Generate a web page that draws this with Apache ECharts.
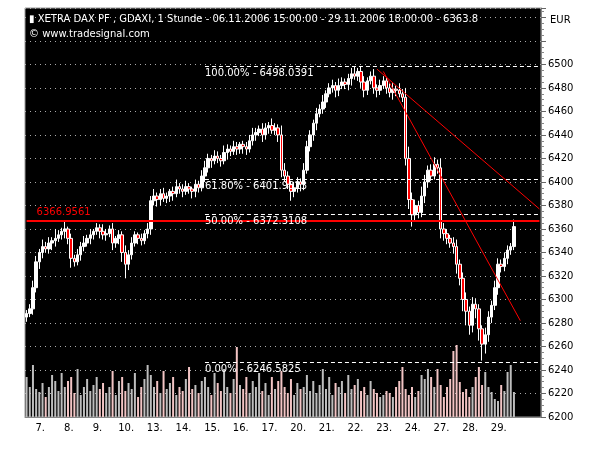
<!DOCTYPE html>
<html><head><meta charset="utf-8">
<script src="https://cdn.jsdelivr.net/npm/echarts@6/dist/echarts.min.js"></script>
<style>html,body{margin:0;background:#fff}#c{width:600px;height:450px}</style>
</head><body><div id="c"></div>
<script>
// hourly closes, 06.11.2006 15:00 .. 29.11.2006
var closes = [6288,6292,6310,6332,6340,6345,6343,6348,6350,6352,6355,6358,6360,6352,6335,6332,6338,6345,6348,6352,
  6355,6358,6361,6358,6355,6356,6360,6348,6352,6355,6340,6330,6338,6348,6355,6352,6350,6356,6360,6384,
  6388,6385,6390,6386,6388,6392,6390,6396,6394,6392,6396,6394,6392,6398,6395,6405,6412,6420,6418,6422,
  6420,6418,6425,6428,6426,6430,6428,6432,6430,6428,6435,6440,6442,6445,6440,6446,6448,6444,6446,6440,
  6410,6405,6398,6392,6395,6400,6398,6410,6430,6440,6450,6458,6462,6468,6475,6480,6482,6478,6482,6485,
  6483,6488,6492,6490,6494,6485,6478,6486,6490,6480,6478,6482,6486,6480,6476,6479,6478,6475,6472,6420,
  6385,6372,6380,6374,6388,6400,6410,6405,6415,6412,6360,6356,6352,6348,6345,6330,6318,6300,6290,6278,
  6296,6292,6275,6262,6270,6285,6295,6310,6330,6328,6335,6342,6345,6362];
var wickUp = [3,4,6,5,3,6,4,5,3,8,4,3,6,2,4,3,5,4,6,3,5,2,4,3,6,4,3,5,2,4,3,6,4,5,3,2,4,3,5,4,
  6,3,4,5,3,2,4,6,3,4,5,3,2,4,3,5,6,4,3,5,4,3,6,4,3,5,4,2,3,4,5,6,4,3,5,4,3,6,4,3,
  8,6,4,3,5,4,3,6,5,4,3,5,4,6,3,4,5,3,6,4,3,4,5,6,3,4,5,3,4,6,3,5,4,3,4,5,3,6,4,8,
  10,6,5,4,8,6,4,5,6,4,8,5,4,3,5,6,4,5,6,4,6,5,4,3,6,5,4,6,5,4,5,4,3,6];
var wickDn = [4,3,5,4,6,5,3,4,6,5,3,4,6,5,8,4,3,5,4,3,5,4,3,6,4,5,3,6,4,5,8,12,5,4,3,5,4,3,4,5,
  4,6,5,3,4,5,6,3,4,5,3,4,6,5,4,3,5,4,6,3,4,5,3,6,4,3,5,4,6,5,3,4,5,3,6,4,5,3,4,6,
  6,5,4,8,5,4,6,5,3,4,5,6,3,4,5,3,4,6,5,3,4,5,6,3,4,5,6,4,3,5,6,4,3,5,4,6,5,3,4,6,
  8,10,6,5,4,6,5,4,3,5,8,6,5,4,6,8,6,10,12,8,6,8,10,14,8,6,5,4,6,5,4,5,4,3];
var volumes = [40,30,52,28,25,34,20,30,42,36,26,44,30,36,40,24,48,22,30,38,
  26,32,40,28,34,24,30,46,22,36,40,26,34,28,44,20,30,38,52,42,
  30,36,24,46,28,34,40,22,30,26,38,50,28,32,24,36,40,30,22,44,
  34,26,48,30,24,38,70,32,28,40,24,36,30,44,26,34,22,40,28,36,
  46,30,24,38,22,34,28,30,42,26,36,24,32,48,28,40,22,34,30,36,
  24,42,28,32,38,26,30,22,36,28,24,20,22,26,24,20,30,36,50,28,
  22,30,20,26,42,38,48,40,30,48,32,20,30,38,66,72,35,25,28,20,
  30,40,50,32,45,30,25,18,16,32,26,45,52,25];
var dayLabels = ['7.','8.','9.','10.','13.','14.','15.','16.','17.','20.','21.','22.','23.','24.','27.','28.','29.'];
var dayStarts = [3,12,21,30,39,48,57,66,75,84,93,102,111,120,129,138,147];
var fibLevels = [6498.0391, 6401.9823, 6372.3108, 6246.5825];
var fibNames = ['100.00%','61.80%','50.00%','0.00%'];
var redLevel = 6366.9561;

var nCat = 162;
var cats = [], ohlc = [], vol = [];
for (var i = 0; i < nCat; i++) {
  cats.push(i);
}
for (var i = 0; i < closes.length; i++) {
  var o = i == 0 ? 6285 : closes[i - 1];
  var c = closes[i];
  ohlc.push([o, c, Math.min(o, c) - wickDn[i], Math.max(o, c) + wickUp[i]]);
  vol.push({value: volumes[i], itemStyle: {color: c >= o ? '#bdbdbd' : '#f2c4c4'}});
}
function labelAt(idx) { return dayStarts.indexOf(idx) >= 0; }

var fibLines = [];
for (var k = 0; k < fibLevels.length; k++) {
  fibLines.push([{coord: [56, fibLevels[k]], label: {formatter: fibNames[k] + ' - ' + fibLevels[k].toFixed(4)}},
                 {coord: [nCat - 1, fibLevels[k]]}]);
}

var myChart = echarts.init(document.getElementById('c'));
myChart.setOption({
  animation: false,
  backgroundColor: '#fff',
  textStyle: {fontFamily: 'DejaVu Sans'},
  title: [
    {text: '\u25AE XETRA DAX PF , GDAXI, 1 Stunde - 06.11.2006 15:00:00 - 29.11.2006 18:00:00 - 6363.8',
     left: 24, top: 9, textStyle: {color: '#fff', fontSize: 10, fontWeight: 'normal'}},
    {text: '\u00A9 www.tradesignal.com', left: 24, top: 24, textStyle: {color: '#fff', fontSize: 10, fontWeight: 'normal'}},
    {text: 'EUR', left: 545, top: 10, textStyle: {color: '#000', fontSize: 10, fontWeight: 'normal'}}
  ],
  grid: {left: 25, right: 59, top: 8, bottom: 33, show: true, backgroundColor: '#000', borderColor: '#999', borderWidth: 1},
  xAxis: {
    type: 'category', data: cats, boundaryGap: true,
    axisLine: {lineStyle: {color: '#888'}},
    axisTick: {interval: function (idx) { return labelAt(idx); }, lineStyle: {color: '#444'}, length: 4},
    axisLabel: {interval: function (idx) { return labelAt(idx); }, color: '#000', fontSize: 10, margin: 6, padding: [0, 0, 0, 8],
      formatter: function (v, idx) { var p = dayStarts.indexOf(idx); return p >= 0 ? dayLabels[p] : ''; }}
  },
  yAxis: [{
    type: 'value', position: 'right', min: 6200, max: 6548, interval: 20, scale: true,
    axisLine: {show: true, lineStyle: {color: '#888'}},
    axisTick: {show: true, length: 5, lineStyle: {color: '#666'}},
    minorTick: {show: true, splitNumber: 4, length: 3, lineStyle: {color: '#888'}},
    axisLabel: {color: '#000', fontSize: 10, margin: 7,
      formatter: function (v) { return (v % 20 == 0 && v <= 6500) ? v : ''; }},
    splitLine: {show: true, lineStyle: {color: '#aaa', type: [1, 4], width: 1}}
  }, {
    type: 'value', min: 0, max: 409, show: false
  }],
  series: [{
    type: 'bar', yAxisIndex: 1, data: vol, barWidth: 2, z: 1
  }, {
    type: 'candlestick', data: ohlc, barWidth: 3, z: 3,
    itemStyle: {color: '#fff', color0: '#f00', borderColor: '#fff', borderColor0: '#fff', borderWidth: 1},
    markLine: {
      symbol: 'none', silent: true, animation: false,
      lineStyle: {color: '#fff', type: [4, 3], width: 1},
      label: {position: 'insideStartBottom', color: '#fff', fontSize: 10, distance: [0, 2]},
      data: fibLines.concat([
        [{coord: [0, redLevel], lineStyle: {color: '#f00', type: 'solid', width: 2},
          label: {formatter: redLevel.toFixed(4), color: '#f00', position: 'insideStartTop', distance: [10, 3]}},
         {coord: [nCat - 1, redLevel]}],
        [{coord: [110, 6496], lineStyle: {color: '#f00', type: 'solid', width: 1}, label: {show: false}},
         {coord: [nCat - 1, 6377]}],
        [{coord: [112, 6494], lineStyle: {color: '#f00', type: 'solid', width: 1}, label: {show: false}},
         {coord: [155, 6282]}]
      ])
    }
  }]
});
</script></body></html>
